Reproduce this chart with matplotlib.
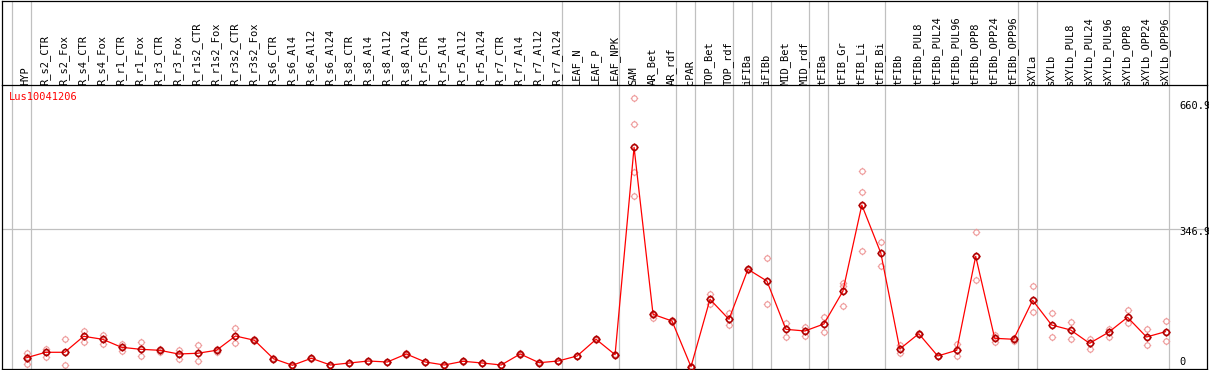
"""
Perfil de expressao de Lus10041206 por tecido / tratamento.
Saida: out.png (1209x370)
"""

import matplotlib
matplotlib.use("Agg")
import matplotlib.pyplot as plt
import matplotlib.transforms as mtransforms
from matplotlib.path import Path
import numpy as np


# ------------------------------------------------------------
# dados
# ------------------------------------------------------------
gene_id = "Lus10041206"

categories = [
    "HYP", "R_s2_CTR", "R_s2_Fox", "R_s4_CTR", "R_s4_Fox", "R_r1_CTR", "R_r1_Fox",
    "R_r3_CTR", "R_r3_Fox", "R_r1s2_CTR", "R_r1s2_Fox", "R_r3s2_CTR", "R_r3s2_Fox",
    "R_s6_CTR", "R_s6_Al4", "R_s6_Al12", "R_s6_Al24", "R_s8_CTR", "R_s8_Al4",
    "R_s8_Al12", "R_s8_Al24", "R_r5_CTR", "R_r5_Al4", "R_r5_Al12", "R_r5_Al24",
    "R_r7_CTR", "R_r7_Al4", "R_r7_Al12", "R_r7_Al24", "LEAF_N", "LEAF_P", "LEAF_NPK",
    "SAM", "AR_Bet", "AR_rdf", "cPAR", "TOP_Bet", "TOP_rdf", "iFIBa", "iFIBb",
    "MID_Bet", "MID_rdf", "tFIBa", "tFIB_Gr", "tFIB_Li", "tFIB_Bi", "tFIBb",
    "tFIBb_PUL8", "tFIBb_PUL24", "tFIBb_PUL96", "tFIBb_OPP8", "tFIBb_OPP24",
    "tFIBb_OPP96", "sXYLa", "sXYLb", "sXYLb_PUL8", "sXYLb_PUL24", "sXYLb_PUL96",
    "sXYLb_OPP8", "sXYLb_OPP24", "sXYLb_OPP96",
]

mean_vals = [
    36.4, 49.4, 49.4, 87.9, 80.7, 61.4, 56.6, 54.2, 45.3, 47.0, 54.2, 88.6, 78.3,
    34.0, 18.1, 34.9, 18.8, 23.6, 28.4, 26.0, 45.3, 26.0, 18.8, 27.7, 23.6, 18.8,
    45.3, 24.3, 28.4, 40.5, 80.7, 43.6,
    543.0, 140.9, 124.7, 14.7, 177.0, 128.8, 249.2, 221.0, 104.7, 100.7, 117.5,
    196.2, 404.0, 288.5,
    57.3, 94.1, 40.5, 54.2, 280.5, 83.1, 80.7,
    174.6, 115.1, 103.1, 71.0, 97.5, 133.6, 86.2, 99.0,
]

replicates = [
    [48.4, 38.0, 21.0], [58.0, 38.8], [80.7, 18.1], [100.6, 73.4], [91.0, 69.3],
    [70.1, 51.8], [74.2, 40.5], [57.3, 50.8], [54.2, 34.0], [66.9, 27.7],
    [58.0, 49.4], [107.2, 71.0], [80.7, 75.9],
    [35.0, 33.0], [19.0, 17.0], [36.0, 34.0], [19.5, 18.0], [24.5, 22.5],
    [29.5, 27.5], [27.0, 25.0], [46.5, 44.0], [27.0, 25.0], [19.5, 18.0],
    [28.5, 27.0], [24.5, 22.5], [19.5, 18.0], [46.5, 44.0], [25.5, 23.0],
    [29.5, 27.5], [41.5, 39.5], [82.0, 79.5], [44.5, 42.5],
    [660.9, 598.4, 484.2, 426.4], [139.0, 132.7], [127.0, 122.0], [15.5, 14.0],
    [189.7, 165.7], [144.7, 114.4], [251.0, 247.5], [275.7, 165.0],
    [120.6, 86.9], [109.6, 88.6], [135.1, 97.5], [217.0, 209.0, 160.1],
    [485.2, 434.6, 293.3], [314.2, 256.4],
    [66.9, 48.4], [95.0, 93.4], [41.5, 39.5], [69.3, 40.5], [339.0, 223.5],
    [91.0, 74.9], [84.5, 75.9],
    [209.0, 145.7], [143.3, 86.2], [123.0, 80.7], [81.4, 58.0], [105.5, 86.9],
    [151.2, 119.2], [105.5, 67.7], [125.5, 75.9],
]

# ultimo indice de cada grupo (linhas verticais)
group_ends = [-1, 0, 28, 31, 34, 35, 37, 38, 39, 41, 42, 45, 52, 53, 60]

y_marks = [660.9, 346.9, 0]
y_mark_labels = ["660.9", "346.9", "0"]
y_mark_shift = [-8, -3, 11]   # px, positivo = para cima

GRID = "#c0c0c0"
PINK = "#ee9999"
RED = "#ff0000"
FONT = "DejaVu Sans Mono"


# ------------------------------------------------------------
# marcador: circulo com pequenos tracos
# ------------------------------------------------------------
def tick_circle():
    circ = Path.unit_circle()
    segs = []
    for dx, dy in [(0, 1), (0, -1), (1, 0), (-1, 0)]:
        segs.append(Path([(dx, dy), (dx * 1.4, dy * 1.4)],
                         [Path.MOVETO, Path.LINETO]))
    return Path.make_compound_path(circ, *segs)


# ------------------------------------------------------------
# figura
# ------------------------------------------------------------
def plot_profile():
    W, H = 1209, 370
    fig = plt.figure(figsize=(W / 100, H / 100), dpi=100)
    fig.patch.set_facecolor("white")

    left_px, right_px = 1.5, 1207.0
    top_px, sep_px, bot_px = 0.5, 85.0, 369.0
    L = left_px / W
    Wd = (right_px - left_px) / W

    ax = fig.add_axes([L, (H - bot_px) / H, Wd, (bot_px - sep_px) / H])
    hax = fig.add_axes([L, (H - sep_px) / H, Wd, (sep_px - top_px) / H])

    step = 18.98
    xmin = -(26.7 - left_px) / step
    xmax = xmin + (right_px - left_px) / step
    s = 0.4153
    y0 = 372.8
    ax.set_xlim(xmin, xmax)
    ax.set_ylim((y0 - bot_px) / s, (y0 - sep_px) / s)
    hax.set_xlim(xmin, xmax)
    hax.set_ylim(0, 1)

    for a in (ax, hax):
        a.set_xticks([])
        a.set_yticks([])
        for sp in a.spines.values():
            sp.set_color("black")
            sp.set_linewidth(0.9)
    ax.spines["top"].set_visible(False)

    # grade
    for g in group_ends:
        ax.axvline(g + 0.21, color=GRID, lw=0.9, zorder=1)
        hax.axvline(g + 0.21, color=GRID, lw=0.9, zorder=1)
    ax.axhline(346.9, color=GRID, lw=0.9, zorder=1)

    # rotulos das categorias
    x = np.arange(len(categories))
    off = mtransforms.offset_copy(hax.transData, fig=fig, x=-1, y=2, units="dots")
    blend = mtransforms.blended_transform_factory(off, hax.transAxes)
    for i, c in enumerate(categories):
        hax.text(i, 0, c, rotation=90, ha="center", va="bottom",
                 fontsize=7.5, family=FONT, transform=blend)

    # dados
    marker = tick_circle()
    ax.plot(x, mean_vals, color=RED, lw=0.9, zorder=3)
    rx = [i for i, r in enumerate(replicates) for _ in r]
    ry = [v for r in replicates for v in r]
    ax.plot(rx, ry, ls="none", marker=marker, ms=5.4, mfc="none",
            mec=PINK, mew=0.8, zorder=2, clip_on=False)
    ax.plot(x, mean_vals, ls="none", marker=marker, ms=5.8, mfc="none",
            mec="#b00000", mew=1.2, zorder=4, clip_on=False)

    # valores do eixo
    for v, lab, dy in zip(y_marks, y_mark_labels, y_mark_shift):
        tr = mtransforms.offset_copy(
            mtransforms.blended_transform_factory(ax.transAxes, ax.transData),
            fig=fig, x=0, y=dy, units="dots")
        ax.text((1179 - left_px) / (right_px - left_px), v, lab, ha="left",
                va="center", fontsize=7.5, family=FONT, transform=tr)

    ax.text((9 - left_px) / (right_px - left_px), 1 - 12 / (bot_px - sep_px),
            gene_id, color=RED, fontsize=7.5, family=FONT, ha="left",
            va="center", transform=ax.transAxes)

    fig.savefig("out.png", dpi=100)


if __name__ == "__main__":
    plot_profile()
